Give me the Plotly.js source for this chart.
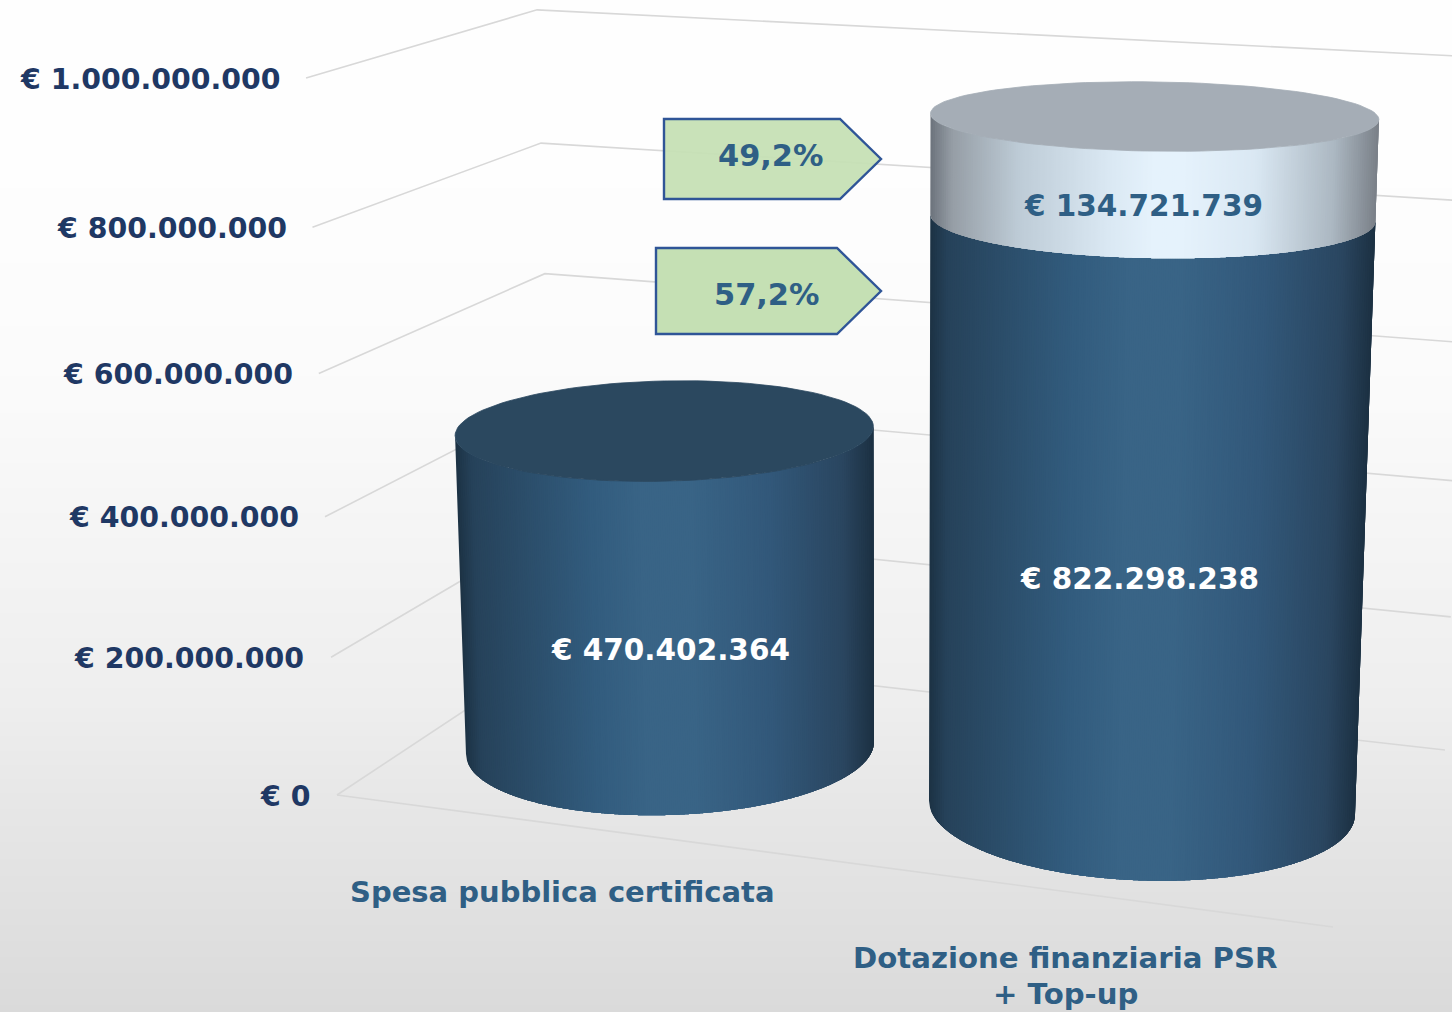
<!DOCTYPE html>
<html>
<head>
<meta charset="utf-8">
<script src="https://cdn.plot.ly/plotly-3.0.1.min.js"></script>
<style>html,body{margin:0;padding:0;background:#fff;overflow:hidden}#chart{width:1452px;height:1012px}</style>
</head>
<body>
<div id="chart"></div>
<script>
// ---- data ----
const tickValues = [0, 200000000, 400000000, 600000000, 800000000, 1000000000];
const tickLabels = ['€ 0', '€ 200.000.000', '€ 400.000.000', '€ 600.000.000', '€ 800.000.000', '€ 1.000.000.000'];
const categories = ['Spesa pubblica certificata', 'Dotazione finanziaria PSR', '+ Top-up'];
const spesaCertificata = 470402364;
const dotazionePSR = 822298238;
const topUp = 134721739;
const shareLabels = ['49,2%', '57,2%'];
const euroLabels = ['€ 470.402.364', '€ 822.298.238', '€ 134.721.739'];

// ---- geometry of the oblique perspective box ----
const VMAX = 1e9, PK = 0.049, CX = 900, GROW = 0.055;
const frac = v => { const t = v / VMAX; return t * (1 - PK) / (1 - PK * t); };
const heightAt = g => 717 + 0.53 * (g - 795);
const px = (gx, v) => CX + (gx - CX) * (1 + GROW * frac(v));
const py = (gy, v) => gy - heightAt(gy) * frac(v);

const FLOOR = { a: [337, 795], b: [556, 650], c: [1445, 750], d: [1333, 927] };
const CYL = [{ x: 670, y: 748, r: 204, ry: 67, tilt: -0.03 }, { x: 1142, y: 807.5, r: 213, ry: 73, tilt: 0.032 }];

const traces = [];
// backdrop
const backY = [0, 150, 300, 400, 500, 600, 700, 800, 900, 1012];
const backLevel = [254, 254, 252, 250, 246, 242, 238, 231, 225, 218];
traces.push({
  type: 'heatmap', x: [0, 1452], y: backY, z: backLevel.map(l => [l, l]),
  zmin: 0, zmax: 255, colorscale: [[0, 'rgb(0,0,0)'], [1, 'rgb(255,255,255)']],
  showscale: false, zsmooth: 'best', hoverinfo: 'skip'
});
// grid on the walls
const gridColor = '#d8d8d8';
tickValues.forEach(v => {
  traces.push({
    type: 'scatter', mode: 'lines', hoverinfo: 'skip',
    x: [FLOOR.a, FLOOR.b, FLOOR.c].map(p => px(p[0], v)),
    y: [FLOOR.a, FLOOR.b, FLOOR.c].map(p => py(p[1], v)),
    line: { color: gridColor, width: 1.6 }
  });
});
traces.push({
  type: 'scatter', mode: 'lines', hoverinfo: 'skip',
  x: [FLOOR.a[0], FLOOR.d[0]], y: [FLOOR.a[1], FLOOR.d[1]], line: { color: gridColor, width: 1.6 }
});

// colour ramps across a cylinder, u = -1 (left) .. 1 (right)
const DARK = [[-1, [28, 50, 68]], [-0.92, [38, 66, 90]], [-0.35, [50, 92, 126]], [-0.1, [57, 100, 134]], [0.12, [57, 100, 134]], [0.5, [50, 88, 122]], [0.85, [42, 70, 96]], [1, [28, 48, 66]]];
const LIGHT = [[-1, [108, 115, 124]], [-0.9, [150, 158, 166]], [-0.6, [190, 204, 215]], [-0.2, [218, 232, 243]], [0, [229, 242, 252]], [0.12, [229, 242, 252]], [0.45, [218, 232, 243]], [0.8, [172, 184, 194]], [1, [122, 128, 136]]];
function ramp(stops, u) {
  for (let i = 1; i < stops.length; i++) {
    if (u <= stops[i][0]) {
      const a = stops[i - 1], b = stops[i], k = (u - a[0]) / (b[0] - a[0]);
      return 'rgb(' + [0, 1, 2].map(c => Math.round(a[1][c] + (b[1][c] - a[1][c]) * k)).join(',') + ')';
    }
  }
  return 'rgb(' + stops[stops.length - 1][1].join(',') + ')';
}
const rim = (c, v, cos, sin) => {
  const f = frac(v), r = c.r * (1 + GROW * f), ry = c.ry * (1 - 0.55 * f), t = c.tilt * (1 - 0.6 * f);
  return [px(c.x, v) + r * cos, py(c.y, v) + ry * sin + t * r * cos];
};
const STRIPS = 200;
function side(c, v0, v1, stops) {
  for (let i = 0; i < STRIPS; i++) {
    const u0 = -1 + 2 * i / STRIPS;
    // each strip reaches a few steps to the right; the next one paints over it, so no seams show
    const u1 = Math.min(1, -1 + 2 * (i + 4) / STRIPS);
    const cosL = [];
    for (let k = 0; k <= 8; k++) cosL.push(u0 + (u1 - u0) * k / 8);
    const sinL = cosL.map(u => Math.sqrt(Math.max(0, 1 - u * u)));
    const bottom = cosL.map((u, k) => rim(c, v0, u, sinL[k]));
    const top = cosL.map((u, k) => rim(c, v1, u, sinL[k])).reverse();
    const pts = bottom.concat(top);
    pts.push(pts[0]);
    traces.push({
      type: 'scatter', mode: 'none', fill: 'toself', fillcolor: ramp(stops, u0 + 1 / STRIPS), hoverinfo: 'skip',
      x: pts.map(p => p[0]), y: pts.map(p => p[1])
    });
  }
}
function cap(c, v, col) {
  const pts = [];
  for (let i = 0; i <= 120; i++) { const a = i / 120 * 2 * Math.PI; pts.push(rim(c, v, Math.cos(a), Math.sin(a))); }
  traces.push({
    type: 'scatter', mode: 'lines', fill: 'toself', fillcolor: col, hoverinfo: 'skip',
    x: pts.map(p => p[0]), y: pts.map(p => p[1]), line: { color: col, width: 0.8 }
  });
}
side(CYL[0], 0, spesaCertificata, DARK);
cap(CYL[0], spesaCertificata, '#2b485f');
side(CYL[1], 0, dotazionePSR, DARK);
side(CYL[1], dotazionePSR, dotazionePSR + topUp, LIGHT);
cap(CYL[1], dotazionePSR + topUp, '#a5adb6');

// annotations
const FONT = '"DejaVu Sans", Verdana, sans-serif';
const NAVY = '#1f3864', STEEL = '#2f5f85';
const text = (x, y, t, size, color, anchor) => ({
  x, y, xref: 'x', yref: 'y', text: '<b>' + t + '</b>', showarrow: false,
  xanchor: anchor || 'center', yanchor: 'middle', align: 'center',
  font: { family: FONT, size, color }
});
const annotations = [];
tickValues.forEach((v, i) => {
  annotations.push(text(px(FLOOR.a[0], v) - 25 + 1.5 * frac(v), py(FLOOR.a[1], v) + 1, tickLabels[i], 28.4, NAVY, 'right'));
});
const segs = [
  { c: CYL[0], mid: spesaCertificata / 2, dx: 3, dy: 0, col: '#ffffff' },
  { c: CYL[1], mid: dotazionePSR / 2, dx: -8, dy: 3, col: '#ffffff' },
  { c: CYL[1], mid: dotazionePSR + topUp / 2, dx: -10, dy: 1, col: STEEL }
];
segs.forEach((s, i) => {
  const p = rim(s.c, s.mid, 0, 1);
  annotations.push(text(p[0] + s.dx, p[1] + s.dy, euroLabels[i], 29.5, s.col));
});
annotations.push(text(562, 892, categories[0], 29, STEEL));
annotations.push(text(1065, 958, categories[1], 29.2, STEEL));
annotations.push(text(1065, 994, categories[2], 29.2, STEEL));
annotations.push(text(770, 155, shareLabels[0], 30.4, STEEL));
annotations.push(text(766, 294, shareLabels[1], 30.4, STEEL));

const pent = (l, s, t, top, bot, tip, fill) => ({
  type: 'path', xref: 'x', yref: 'y', layer: 'above',
  path: `M${l},${top}L${s},${top}L${t},${tip}L${s},${bot}L${l},${bot}Z`,
  fillcolor: fill, line: { color: '#2f5597', width: 2.4 }
});
const shapes = [
  pent(664, 840, 881, 119, 199, 159, 'rgba(197,224,180,0.93)'),
  pent(656, 837, 881, 248, 334, 291, 'rgb(197,224,180)')
];

Plotly.newPlot('chart', traces, {
  width: 1452, height: 1012, margin: { l: 0, r: 0, t: 0, b: 0 }, showlegend: false,
  paper_bgcolor: '#ffffff', plot_bgcolor: 'rgba(0,0,0,0)',
  xaxis: { range: [0, 1452], visible: false, fixedrange: true },
  yaxis: { range: [1012, 0], visible: false, fixedrange: true },
  annotations, shapes
}, { displayModeBar: false, staticPlot: true });
</script>
</body>
</html>
